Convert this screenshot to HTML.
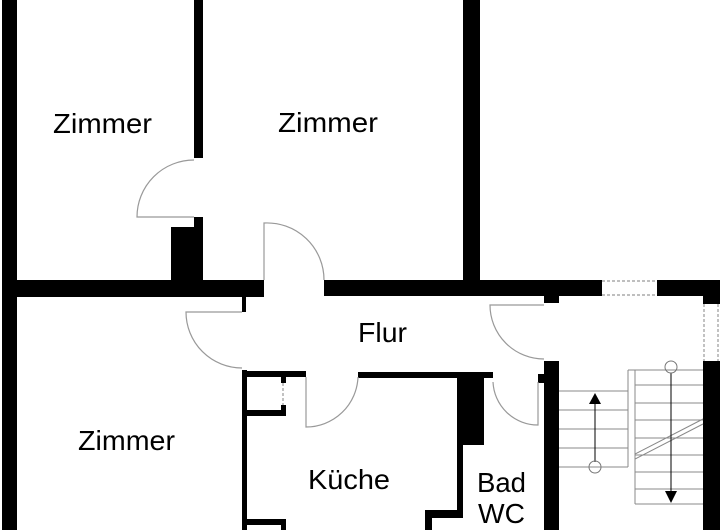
<!DOCTYPE html>
<html><head><meta charset="utf-8"><style>
html,body{margin:0;padding:0;background:#fff;}
svg{display:block;}
text{font-family:"Liberation Sans",Arial,sans-serif;font-size:28px;fill:#000;}
</style></head><body>
<svg width="720" height="530" viewBox="0 0 720 530" xmlns="http://www.w3.org/2000/svg">
<g fill="#000">
<!-- outer left -->
<rect x="2" y="0" width="15" height="530"/>
<!-- wall between top rooms -->
<rect x="194" y="0" width="9" height="158"/>
<rect x="194" y="217" width="9" height="64"/>
<rect x="171" y="227" width="32" height="54"/>
<!-- main horizontal wall -->
<rect x="17" y="280" width="247" height="17"/>
<rect x="324" y="280" width="278" height="16"/>
<rect x="657" y="280" width="63" height="16"/>
<rect x="463" y="0" width="17" height="281"/>
<rect x="703" y="296" width="17" height="8"/>
<rect x="703" y="361" width="17" height="169"/>
<rect x="544" y="296" width="15" height="7"/>
<!-- flur left small wall -->
<rect x="242" y="297" width="4" height="15"/>
<!-- stair wall -->
<rect x="544" y="361" width="15" height="169"/>
<rect x="538" y="374" width="6" height="9"/>
<!-- kitchen -->
<rect x="242" y="370" width="5" height="160"/>
<rect x="242" y="371" width="64" height="6"/>
<rect x="358" y="372" width="135" height="6"/>
<rect x="247" y="410" width="39" height="6"/>
<rect x="281" y="375" width="5" height="8"/>
<rect x="281" y="405" width="5" height="11"/>
<rect x="247" y="519" width="39" height="6"/>
<rect x="281" y="519" width="5" height="11"/>
<rect x="457" y="373" width="27" height="72"/>
<rect x="457" y="445" width="6" height="73"/>
<rect x="425" y="510" width="38" height="8"/>
<rect x="425" y="510" width="7" height="20"/>
</g>
<g fill="none" stroke="#999" stroke-width="1.2">
<!-- windows dashed -->
<path d="M602 281H657M602 295H657" stroke-dasharray="3 2"/>
<path d="M704 304V361M718 304V361" stroke-dasharray="3 2"/>
<path d="M283 383V405" stroke-dasharray="3 2"/>
<!-- doors -->
<path d="M194 217H137A57 57 0 0 1 194 160"/>
<path d="M264 280V223A57 57 0 0 1 324 280"/>
<path d="M242 312H186A56 56 0 0 0 242 368"/>
<path d="M544 305H490A54 54 0 0 0 544 359"/>
<path d="M306 377V427A52 52 0 0 0 358 377"/>
<path d="M538 382V425A45 45 0 0 1 493 382"/>
</g>
<g fill="none" stroke="#888" stroke-width="1">
<!-- left flight -->
<path d="M559 391H628M559 410H628M559 429H628M559 448H628M559 467H628"/>
<path d="M628 370V467M635 370V467"/>
<path d="M628 370H635"/>
<!-- right flight -->
<path d="M635 370H703M635 385H703M635 403H703M635 420H703M635 438H703M635 455H703M635 472H703M635 489H703M635 504H703"/>
<path d="M635 370V504"/>
<path d="M635 454L703 419M635 459L703 424"/>
</g>
<g stroke="#000" stroke-width="1" fill="none">
<path d="M595 402V462"/>
<circle cx="595" cy="467" r="6" stroke="#777"/>
<path d="M671 373V492"/>
<circle cx="671" cy="367" r="6" stroke="#777"/>
</g>
<path d="M589 404L595 393L601 404Z" fill="#000"/>
<path d="M665 491L677 491L671 503Z" fill="#000"/>
<text x="53" y="133" textLength="99" lengthAdjust="spacingAndGlyphs">Zimmer</text>
<text x="278" y="132" textLength="100" lengthAdjust="spacingAndGlyphs">Zimmer</text>
<text x="78" y="450" textLength="97" lengthAdjust="spacingAndGlyphs">Zimmer</text>
<text x="358" y="342" textLength="49" lengthAdjust="spacingAndGlyphs">Flur</text>
<text x="308" y="489" textLength="82" lengthAdjust="spacingAndGlyphs">Küche</text>
<text x="477" y="492" textLength="49" lengthAdjust="spacingAndGlyphs">Bad</text>
<text x="478" y="523" textLength="47" lengthAdjust="spacingAndGlyphs">WC</text>
</svg>
</body></html>
